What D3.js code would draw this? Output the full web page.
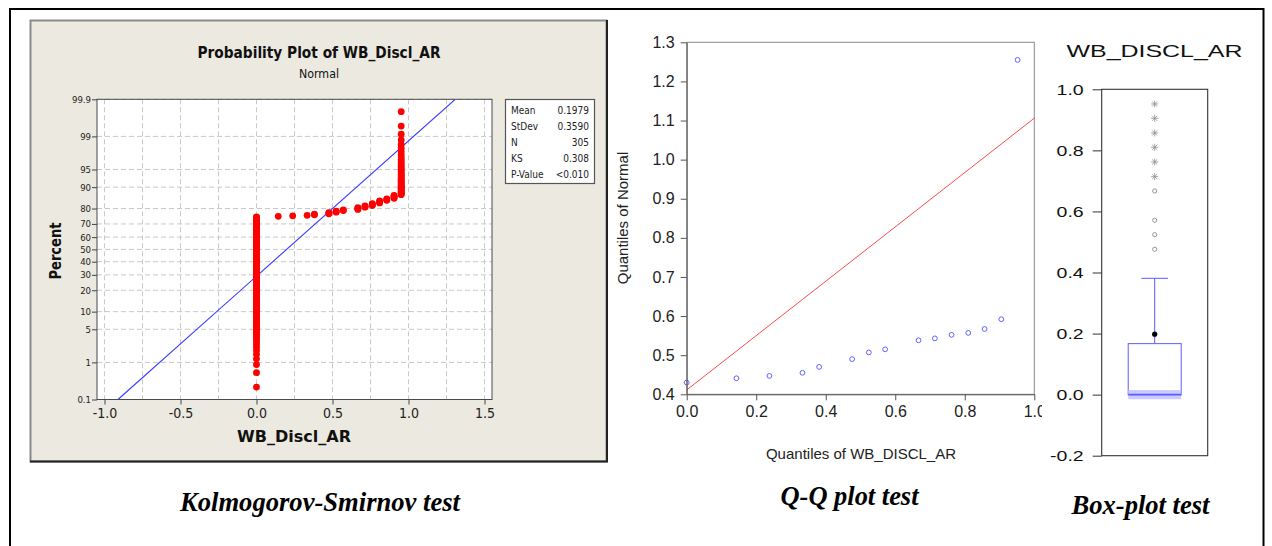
<!DOCTYPE html>
<html>
<head>
<meta charset="utf-8">
<script src="https://cdn.jsdelivr.net/npm/d3@7"></script>
<style>
  body { margin: 0; background: #fff; }
  svg { display: block; }
</style>
</head>
<body>
<svg id="fig" width="1272" height="546"></svg>
<script>
// ---------- data ----------
// probability plot: distinct WB_Discl_AR values and how many firms sit on each
var discValues = [0, 0.143, 0.238, 0.333, 0.381, 0.476, 0.524, 0.571, 0.667, 0.714, 0.762, 0.810, 0.857, 0.905, 0.952];
var discCounts = [229, 1, 1, 1, 2, 3, 3, 2, 4, 3, 4, 4, 3, 5, 40];
var statNames = ["Mean", "StDev", "N", "KS", "P-Value"];
var statValues = ["0.1979", "0.3590", "305", "0.308", "<0.010"];
var fitMean = 0.1979, fitStDev = 0.3590;
var percentTicks = [0.1, 1, 5, 10, 20, 30, 40, 50, 60, 70, 80, 90, 95, 99, 99.9];
var discTicks = [-1.0, -0.5, 0.0, 0.5, 1.0, 1.5];
var discGrid = [-1.0, -0.75, -0.5, -0.25, 0, 0.25, 0.5, 0.75, 1.0, 1.25, 1.5];

// Q-Q plot
var qqSample = [0, 0.143, 0.238, 0.333, 0.381, 0.476, 0.524, 0.571, 0.667, 0.714, 0.762, 0.810, 0.857, 0.905, 0.952];
var qqNormal = [0.430, 0.441, 0.447, 0.455, 0.470, 0.490, 0.507, 0.515, 0.538, 0.543, 0.552, 0.557, 0.567, 0.592, 1.255];
var qqRefX = [0, 1.0];
var qqRefY = [0.411, 1.106];
var qqTicksX = [0, 0.2, 0.4, 0.6, 0.8, 1.0];
var qqTicksY = [0.4, 0.5, 0.6, 0.7, 0.8, 0.9, 1.0, 1.1, 1.2, 1.3];

// box plot
var boxQ1 = 0, boxMedian = 0, boxQ3 = 0.167, boxWhiskerTop = 0.381, boxMean = 0.198;
var boxOutliers = [0.476, 0.524, 0.571, 0.667];
var boxExtremes = [0.714, 0.762, 0.810, 0.857, 0.905, 0.952];
var boxTicks = [-0.2, 0.0, 0.2, 0.4, 0.6, 0.8, 1.0];

var captions = ["Kolmogorov-Smirnov test", "Q-Q plot test", "Box-plot test"];

// ---------- helpers ----------
var minitabFont = "'DejaVu Sans Condensed', 'DejaVu Sans', sans-serif";
var arialFont = "'Liberation Sans', Arial, sans-serif";
var timesFont = "'Liberation Serif', 'Times New Roman', serif";

// one decimal, plain hyphen for negatives
var fmt1 = function(d) { return d.toFixed(1); };

// inverse normal cdf (Acklam)
function probit(p) {
  var a = [-3.969683028665376e+01, 2.209460984245205e+02, -2.759285104469687e+02, 1.383577518672690e+02, -3.066479806614716e+01, 2.506628277459239e+00];
  var b = [-5.447609879822406e+01, 1.615858368580409e+02, -1.556989798598866e+02, 6.680131188771972e+01, -1.328068155288572e+01];
  var c = [-7.784894002430293e-03, -3.223964580411365e-01, -2.400758277161838e+00, -2.549732539343734e+00, 4.374664141464968e+00, 2.938163982698783e+00];
  var d = [7.784695709041462e-03, 3.224671290700398e-01, 2.445134137142996e+00, 3.754408661907416e+00];
  var q, r;
  if (p < 0.02425) {
    q = Math.sqrt(-2 * Math.log(p));
    return (((((c[0]*q+c[1])*q+c[2])*q+c[3])*q+c[4])*q+c[5]) / ((((d[0]*q+d[1])*q+d[2])*q+d[3])*q+1);
  } else if (p > 1 - 0.02425) {
    q = Math.sqrt(-2 * Math.log(1 - p));
    return -(((((c[0]*q+c[1])*q+c[2])*q+c[3])*q+c[4])*q+c[5]) / ((((d[0]*q+d[1])*q+d[2])*q+d[3])*q+1);
  }
  q = p - 0.5; r = q * q;
  return (((((a[0]*r+a[1])*r+a[2])*r+a[3])*r+a[4])*r+a[5])*q / (((((b[0]*r+b[1])*r+b[2])*r+b[3])*r+b[4])*r+1);
}

function stretch(sel, k) {
  sel.each(function() {
    var w = this.getComputedTextLength();
    d3.select(this).attr("textLength", w * k).attr("lengthAdjust", "spacingAndGlyphs");
  });
}

var svg = d3.select("#fig");

// outer frame
svg.append("path")
  .attr("d", "M10,546V9H1263.5V546")
  .attr("fill", "none")
  .attr("stroke", "#000")
  .attr("stroke-width", 2);

// ================= left: Minitab probability plot =================
var left = svg.append("g");
left.append("rect")
  .attr("x", 30.5).attr("y", 20.5).attr("width", 576).attr("height", 441)
  .attr("fill", "#ece9e0").attr("stroke", "#8a8a8a").attr("stroke-width", 2);
left.append("path")
  .attr("d", "M30,461.5H607V20")
  .attr("fill", "none").attr("stroke", "#222").attr("stroke-width", 2);

var px = d3.scaleLinear().domain([-1.0, 1.5]).range([104.5, 484.5]);
var pz = d3.scaleLinear().domain([probit(0.001), probit(0.999)]).range([399.5, 99.3]);
var pyPct = function(p) { return pz(probit(p / 100)); };
var plotL = 97, plotR = 492, plotT = 99.3, plotB = 399.5;

left.append("rect")
  .attr("x", plotL).attr("y", plotT).attr("width", plotR - plotL).attr("height", plotB - plotT)
  .attr("fill", "#fff");

left.append("defs").append("clipPath").attr("id", "probClip")
  .append("rect").attr("x", plotL).attr("y", plotT).attr("width", plotR - plotL).attr("height", plotB - plotT);

left.append("g").selectAll("line")
  .data(discGrid).enter().append("line")
  .attr("x1", function(d) { return px(d); }).attr("x2", function(d) { return px(d); })
  .attr("y1", plotT).attr("y2", plotB)
  .attr("stroke", "#c9c9c9").attr("stroke-dasharray", "5,3");
left.append("g").selectAll("line")
  .data(percentTicks).enter().append("line")
  .attr("x1", plotL).attr("x2", plotR)
  .attr("y1", function(d) { return pyPct(d); }).attr("y2", function(d) { return pyPct(d); })
  .attr("stroke", "#c9c9c9").attr("stroke-dasharray", "5,3");

// fitted normal line from Mean / StDev
left.append("line")
  .attr("clip-path", "url(#probClip)")
  .attr("x1", px(fitMean + fitStDev * probit(0.001))).attr("y1", pyPct(0.1))
  .attr("x2", px(fitMean + fitStDev * probit(0.999))).attr("y2", pyPct(99.9))
  .attr("stroke", "#3a3aff").attr("stroke-width", 1.1);

// points at median-rank plotting positions
var n = d3.sum(discCounts);
var probPts = [];
var rank = 0;
discValues.forEach(function(v, i) {
  for (var k = 0; k < discCounts[i]; k++) {
    rank++;
    probPts.push({ x: v, p: 100 * (rank - 0.3) / (n + 0.4) });
  }
});
left.append("g").selectAll("circle")
  .data(probPts).enter().append("circle")
  .attr("cx", function(d) { return px(d.x); })
  .attr("cy", function(d) { return pyPct(d.p); })
  .attr("r", 3.4)
  .attr("fill", "#ff0000");

left.append("rect")
  .attr("x", plotL).attr("y", plotT).attr("width", plotR - plotL).attr("height", plotB - plotT)
  .attr("fill", "none").attr("stroke", "#4a4a4a");

var pyAxis = left.append("g")
  .attr("transform", "translate(" + plotL + ",0)")
  .call(d3.axisLeft(pz)
    .tickValues(percentTicks.map(function(p) { return probit(p / 100); }))
    .tickFormat(function(d, i) { return percentTicks[i]; })
    .tickSize(5).tickPadding(1).tickSizeOuter(0));
pyAxis.select(".domain").remove();
pyAxis.selectAll("line").attr("stroke", "#444");
pyAxis.selectAll("text").attr("font-family", minitabFont).attr("font-size", 9.5).attr("fill", "#222");

var pxAxis = left.append("g")
  .attr("transform", "translate(0," + plotB + ")")
  .call(d3.axisBottom(px).tickValues(discTicks).tickFormat(fmt1).tickSize(5).tickPadding(4).tickSizeOuter(0));
pxAxis.select(".domain").remove();
pxAxis.selectAll("line").attr("stroke", "#444");
pxAxis.selectAll("text").attr("font-family", minitabFont).attr("font-size", 14).attr("fill", "#222");

left.append("text")
  .attr("x", 319).attr("y", 58).attr("text-anchor", "middle")
  .attr("font-family", minitabFont).attr("font-weight", "bold").attr("font-size", 15)
  .attr("textLength", 243).attr("lengthAdjust", "spacingAndGlyphs")
  .attr("fill", "#111")
  .text("Probability Plot of WB_Discl_AR");
left.append("text")
  .attr("x", 319).attr("y", 77.5).attr("text-anchor", "middle")
  .attr("font-family", minitabFont).attr("font-size", 12)
  .attr("textLength", 40).attr("lengthAdjust", "spacingAndGlyphs")
  .attr("fill", "#111")
  .text("Normal");
left.append("text")
  .attr("transform", "translate(61,251) rotate(-90)")
  .attr("text-anchor", "middle")
  .attr("font-family", minitabFont).attr("font-weight", "bold").attr("font-size", 15)
  .attr("textLength", 57).attr("lengthAdjust", "spacingAndGlyphs")
  .attr("fill", "#111")
  .text("Percent");
left.append("text")
  .attr("x", 294).attr("y", 442).attr("text-anchor", "middle")
  .attr("font-family", minitabFont).attr("font-weight", "bold").attr("font-size", 15)
  .attr("textLength", 114).attr("lengthAdjust", "spacingAndGlyphs")
  .attr("fill", "#111")
  .text("WB_Discl_AR");

// stats box
var stats = left.append("g");
stats.append("rect")
  .attr("x", 505.5).attr("y", 99.5).attr("width", 89).attr("height", 84)
  .attr("fill", "#fff").attr("stroke", "#555").attr("stroke-width", 1.2);
var statRow = d3.scalePoint().domain(statNames).range([110.3, 174.5]);
stats.selectAll("text.name")
  .data(statNames).enter().append("text")
  .attr("class", "name")
  .attr("x", 511).attr("y", function(d) { return statRow(d); }).attr("dy", "0.35em")
  .attr("font-family", minitabFont).attr("font-size", 10).attr("fill", "#222")
  .text(function(d) { return d; });
stats.selectAll("text.val")
  .data(statValues).enter().append("text")
  .attr("class", "val")
  .attr("x", 589).attr("y", function(d, i) { return statRow(statNames[i]); }).attr("dy", "0.35em")
  .attr("text-anchor", "end")
  .attr("font-family", minitabFont).attr("font-size", 10).attr("fill", "#222")
  .text(function(d) { return d; });

// ================= middle: Q-Q plot =================
var mid = svg.append("g");
mid.append("defs").append("clipPath").attr("id", "midClip")
  .append("rect").attr("x", 610).attr("y", 0).attr("width", 432).attr("height", 546);
var midG = mid.append("g").attr("clip-path", "url(#midClip)");

var qx = d3.scaleLinear().domain([0, 1]).range([686.7, 1034.3]);
var qy = d3.scaleLinear().domain([0.4, 1.3]).range([394.3, 42.3]);

midG.append("rect")
  .attr("x", qx(0)).attr("y", qy(1.3)).attr("width", qx(1) - qx(0)).attr("height", qy(0.4) - qy(1.3))
  .attr("fill", "none").attr("stroke", "#8a8a8a");

midG.append("line")
  .attr("x1", qx(qqRefX[0])).attr("y1", qy(qqRefY[0]))
  .attr("x2", qx(qqRefX[1])).attr("y2", qy(qqRefY[1]))
  .attr("stroke", "#ff4a4a").attr("stroke-width", 1);

midG.append("g").selectAll("circle")
  .data(qqSample).enter().append("circle")
  .attr("cx", function(d) { return qx(d); })
  .attr("cy", function(d, i) { return qy(qqNormal[i]); })
  .attr("r", 2.4)
  .attr("fill", "none").attr("stroke", "#6262ff").attr("stroke-width", 1);

var qyAxis = midG.append("g")
  .attr("transform", "translate(" + qx(0) + ",0)")
  .call(d3.axisLeft(qy).tickValues(qqTicksY).tickFormat(fmt1).tickSize(6).tickPadding(6).tickSizeOuter(0));
qyAxis.select(".domain").attr("stroke", "#555");
qyAxis.selectAll("line").attr("stroke", "#555");
qyAxis.selectAll("text").attr("font-family", arialFont).attr("font-size", 16).attr("fill", "#222");

var qxAxis = midG.append("g")
  .attr("transform", "translate(0," + qy(0.4) + ")")
  .call(d3.axisBottom(qx).tickValues(qqTicksX).tickFormat(fmt1).tickSize(6).tickPadding(5).tickSizeOuter(0));
qxAxis.select(".domain").attr("stroke", "#555");
qxAxis.selectAll("line").attr("stroke", "#555");
qxAxis.selectAll("text").attr("font-family", arialFont).attr("font-size", 16).attr("fill", "#222");

midG.append("text")
  .attr("transform", "translate(628,218) rotate(-90)")
  .attr("text-anchor", "middle")
  .attr("font-family", arialFont).attr("font-size", 15).attr("fill", "#222")
  .text("Quantiles of Normal");
midG.append("text")
  .attr("x", 861).attr("y", 459).attr("text-anchor", "middle")
  .attr("font-family", arialFont).attr("font-size", 15).attr("fill", "#222")
  .text("Quantiles of WB_DISCL_AR");

// ================= right: box plot =================
var right = svg.append("g");
var by = d3.scaleLinear().domain([-0.2, 1.0]).range([455.7, 89.3]);
var bx = d3.scaleBand().domain(["WB_DISCL_AR"]).range([1101.7, 1207.7]).paddingInner(0).paddingOuter(0.5);
var bLeft = bx("WB_DISCL_AR"), bW = bx.bandwidth(), bMid = bLeft + bW / 2;

right.append("rect")
  .attr("x", 1101.7).attr("y", by(1.0)).attr("width", 106).attr("height", by(-0.2) - by(1.0))
  .attr("fill", "none").attr("stroke", "#333").attr("stroke-width", 1.1);

// whisker
right.append("line")
  .attr("x1", bMid).attr("x2", bMid).attr("y1", by(boxQ3)).attr("y2", by(boxWhiskerTop))
  .attr("stroke", "#5b5bff");
right.append("line")
  .attr("x1", bMid - 13.3).attr("x2", bMid + 13.3).attr("y1", by(boxWhiskerTop)).attr("y2", by(boxWhiskerTop))
  .attr("stroke", "#5b5bff");

// box
right.append("rect")
  .attr("x", bLeft).attr("y", by(boxQ3)).attr("width", bW).attr("height", by(boxQ1) - by(boxQ3))
  .attr("fill", "#fff").attr("stroke", "#5b5bff").attr("stroke-width", 1);
right.append("rect")
  .attr("x", bLeft).attr("y", by(boxMedian + 0.015)).attr("width", bW).attr("height", by(boxMedian - 0.015) - by(boxMedian + 0.015))
  .attr("fill", "#c2c2ff").attr("opacity", 0.85);
right.append("line")
  .attr("x1", bLeft).attr("x2", bLeft + bW).attr("y1", by(boxMedian)).attr("y2", by(boxMedian))
  .attr("stroke", "#5b5bff").attr("stroke-width", 1.6);

// mean
right.append("circle")
  .attr("cx", bMid).attr("cy", by(boxMean)).attr("r", 2.6).attr("fill", "#000");

// outliers and extremes
right.append("g").selectAll("circle")
  .data(boxOutliers).enter().append("circle")
  .attr("cx", bMid).attr("cy", function(d) { return by(d); })
  .attr("r", 2.1).attr("fill", "none").attr("stroke", "#8a8a8a").attr("stroke-width", 0.9);

// eight-spoke asterisk glyph
var starPath = [0, 45, 90, 135].map(function(a) {
  var r = 3.6, t = a * Math.PI / 180;
  var dx = r * Math.cos(t), dy = r * Math.sin(t);
  return "M" + (-dx) + "," + (-dy) + "L" + dx + "," + dy;
}).join("");
right.append("g").selectAll("path")
  .data(boxExtremes).enter().append("path")
  .attr("transform", function(d) { return "translate(" + bMid + "," + by(d) + ")"; })
  .attr("d", starPath)
  .attr("fill", "none").attr("stroke", "#8f8f8f").attr("stroke-width", 0.8);

var byAxis = right.append("g")
  .attr("transform", "translate(1101.7,0)")
  .call(d3.axisLeft(by).tickValues(boxTicks).tickFormat(fmt1).tickSize(9).tickPadding(9).tickSizeOuter(0));
byAxis.select(".domain").remove();
byAxis.selectAll("line").attr("stroke", "#333");
byAxis.selectAll("text").attr("font-family", arialFont).attr("font-size", 15).attr("fill", "#111");
stretch(byAxis.selectAll("text"), 1.3);

right.append("text")
  .attr("x", 1154.5).attr("y", 57).attr("text-anchor", "middle")
  .attr("font-family", arialFont).attr("font-size", 17).attr("fill", "#111")
  .attr("textLength", 176).attr("lengthAdjust", "spacingAndGlyphs")
  .text("WB_DISCL_AR");

// ================= captions =================
var capX = [320, 849.5, 1140.5];
var capY = [511, 505, 514];
var capW = [280, 138, 138];
svg.append("g").selectAll("text")
  .data(captions).enter().append("text")
  .attr("x", function(d, i) { return capX[i]; })
  .attr("y", function(d, i) { return capY[i]; })
  .attr("text-anchor", "middle")
  .attr("font-family", timesFont).attr("font-weight", "bold").attr("font-style", "italic")
  .attr("font-size", 27).attr("fill", "#000")
  .attr("textLength", function(d, i) { return capW[i]; }).attr("lengthAdjust", "spacingAndGlyphs")
  .text(function(d) { return d; });
</script>
</body>
</html>
